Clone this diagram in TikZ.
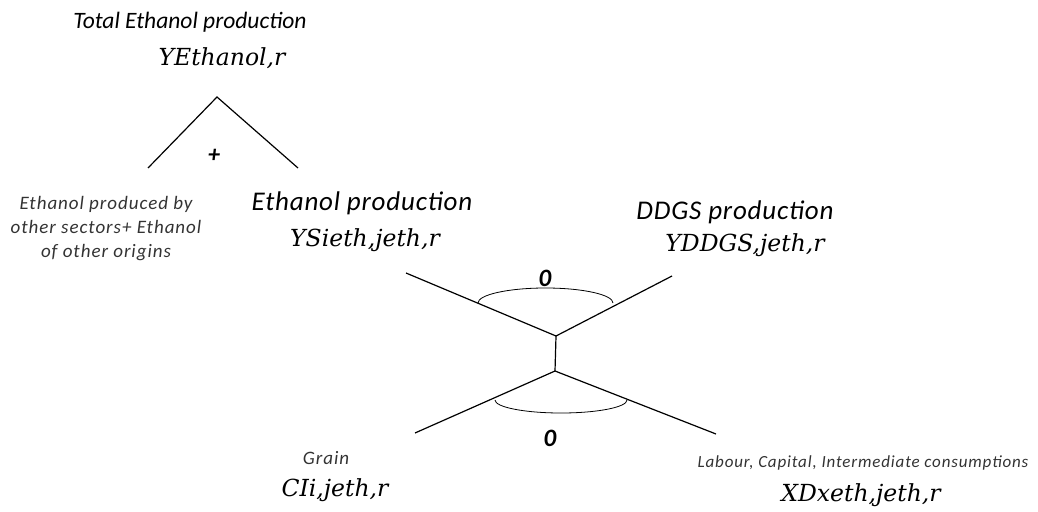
\documentclass[tikz,border=0pt]{standalone}
\usepackage{fontspec}
\setmainfont{Carlito}
\newfontfamily\titlefont[LetterSpace=3]{Carlito}
\newfontfamily\notefont[LetterSpace=5]{Carlito}
\newfontfamily\varfont{DejaVu Serif}
\usetikzlibrary{positioning}

\begin{document}
\begin{tikzpicture}[x=1pt,y=-1pt,
    title/.style={font=\itshape\fontsize{23.5}{23.5}\selectfont, inner sep=0pt},
    subtitle/.style={font=\titlefont\itshape\fontsize{27}{27}\selectfont, inner sep=0pt},
    var/.style={font=\varfont\itshape\fontsize{23.5}{23.5}\selectfont, inner sep=0pt},
    note/.style={font=\notefont\itshape\fontsize{19}{24}\selectfont, align=center, text=black!80, inner sep=0pt},
    sigma/.style={font=\itshape\bfseries\fontsize{25}{25}\selectfont, inner sep=0pt},
    branch/.style={line width=1.2pt}]
          \useasboundingbox (0,0) rectangle (1038,511);
          % top level: total ethanol
          \node[title] at (190,22) (total) {Total Ethanol production};
          \node[var] at (222,58) (ytot) {YEthanol,r};
          \coordinate (apex) at (217,97);
          \coordinate (otherfoot) at (148,168);
          \coordinate (ethfoot) at (298,168);
          \draw[branch] (otherfoot) -- (apex) -- (ethfoot);
          \node[font=\itshape\bfseries\fontsize{24}{24}\selectfont] at (214,156) (plus) {+};
          \node[note] at (106,229) (other) {Ethanol produced by\\other sectors+ Ethanol\\of other origins};
          % ethanol and DDGS nest
          \node[subtitle] at (362,203) (ethprod) {Ethanol production};
          \node[var] at (365,240) (ysi) {YSieth,jeth,r};
          \node[subtitle] at (735,212) (ddgsprod) {DDGS production};
          \node[var] at (745,245) (yddgs) {YDDGS,jeth,r};
          \coordinate (ethend) at (406,273);
          \coordinate (ddgsend) at (672,276);
          \coordinate (upj) at (556,336);
          \coordinate (lowj) at (555,371);
          \coordinate (grainend) at (415,433);
          \coordinate (xdend) at (716,434);
          \draw[branch] (ethend) -- (upj) -- (ddgsend);
          \draw[branch] (upj) -- (lowj);
          \draw[branch] (grainend) -- (lowj) -- (xdend);
          \draw[line width=0.8pt] (478,303) arc[start angle=180, end angle=0, x radius=67.5pt, y radius=15pt];
          \draw[line width=0.8pt] (495,400) arc[start angle=180, end angle=360, x radius=66pt, y radius=13pt];
          \node[sigma] at (545,278) (upsig) {0};
          \node[sigma] at (550,438) (lowsig) {0};
          % inputs
          \node[note] at (326,458) (grain) {Grain};
          \node[var] at (335,490) (ci) {CIi,jeth,r};
          \node[note, font=\notefont\itshape\fontsize{17}{17}\selectfont] at (863,463) (inputs) {Labour, Capital, Intermediate consumptions};
          \node[var] at (861,495) (xd) {XDxeth,jeth,r};
\end{tikzpicture}
\end{document}
